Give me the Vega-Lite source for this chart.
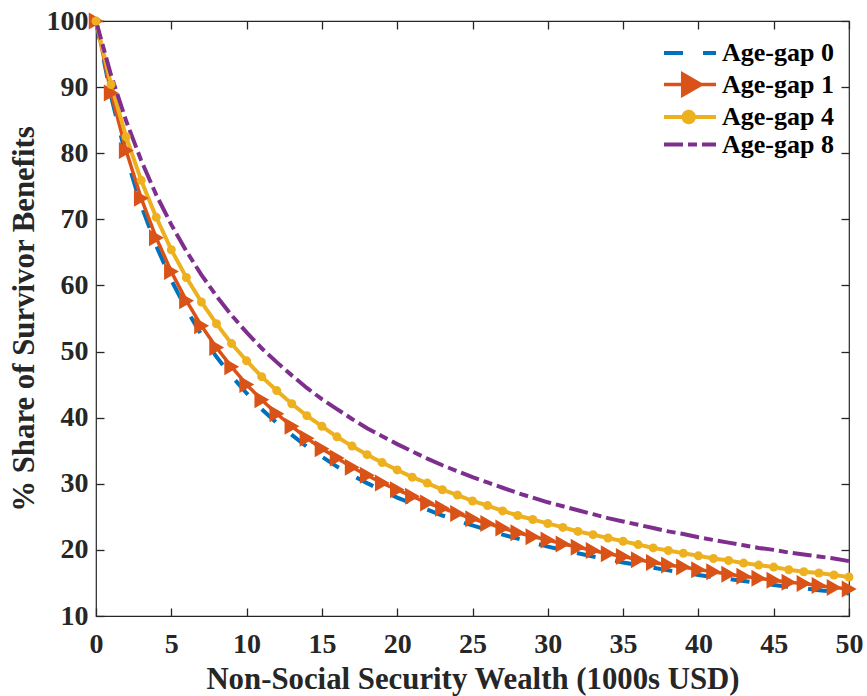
{
 "$schema": "https://vega.github.io/schema/vega-lite/v6.json",
 "width": 753, "height": 595,
 "autosize": {"type": "none"},
 "padding": {"left": 96, "top": 21, "right": 18, "bottom": 80},
 "background": "white",
 "config": {
  "font": "Liberation Serif",
  "view": {"stroke": "#262626", "strokeWidth": 1.2},
  "axis": {"domain": false, "grid": false, "labelFont": "Liberation Serif", "labelFontWeight": "bold", "labelFontSize": 28, "labelColor": "#262626", "tickColor": "#262626", "tickWidth": 1.3, "tickSize": -8, "titleFont": "Liberation Serif", "titleFontWeight": "bold", "titleFontSize": 30.8, "titleColor": "#262626", "labelFlush": false, "labelOverlap": false}
 },
 "data": {"values": [
{"x":0,"s":"Age-gap 0","y":100},{"x":1,"s":"Age-gap 0","y":88.6},{"x":2,"s":"Age-gap 0","y":79.5},{"x":3,"s":"Age-gap 0","y":72.1},{"x":4,"s":"Age-gap 0","y":66.0},{"x":5,"s":"Age-gap 0","y":60.8},{"x":6,"s":"Age-gap 0","y":56.4},{"x":7,"s":"Age-gap 0","y":52.5},{"x":8,"s":"Age-gap 0","y":49.2},{"x":9,"s":"Age-gap 0","y":46.3},{"x":10,"s":"Age-gap 0","y":43.7},{"x":11,"s":"Age-gap 0","y":41.3},{"x":12,"s":"Age-gap 0","y":39.2},{"x":13,"s":"Age-gap 0","y":37.4},{"x":14,"s":"Age-gap 0","y":35.6},{"x":15,"s":"Age-gap 0","y":34.1},{"x":16,"s":"Age-gap 0","y":32.6},{"x":17,"s":"Age-gap 0","y":31.3},{"x":18,"s":"Age-gap 0","y":30.1},{"x":19,"s":"Age-gap 0","y":29.0},{"x":20,"s":"Age-gap 0","y":27.9},{"x":21,"s":"Age-gap 0","y":27.0},{"x":22,"s":"Age-gap 0","y":26.1},{"x":23,"s":"Age-gap 0","y":25.2},{"x":24,"s":"Age-gap 0","y":24.4},{"x":25,"s":"Age-gap 0","y":23.7},{"x":26,"s":"Age-gap 0","y":23.0},{"x":27,"s":"Age-gap 0","y":22.3},{"x":28,"s":"Age-gap 0","y":21.7},{"x":29,"s":"Age-gap 0","y":21.1},{"x":30,"s":"Age-gap 0","y":20.5},{"x":31,"s":"Age-gap 0","y":20.0},{"x":32,"s":"Age-gap 0","y":19.5},{"x":33,"s":"Age-gap 0","y":19.0},{"x":34,"s":"Age-gap 0","y":18.6},{"x":35,"s":"Age-gap 0","y":18.1},{"x":36,"s":"Age-gap 0","y":17.7},{"x":37,"s":"Age-gap 0","y":17.3},{"x":38,"s":"Age-gap 0","y":16.9},{"x":39,"s":"Age-gap 0","y":16.6},{"x":40,"s":"Age-gap 0","y":16.2},{"x":41,"s":"Age-gap 0","y":15.9},{"x":42,"s":"Age-gap 0","y":15.6},{"x":43,"s":"Age-gap 0","y":15.3},{"x":44,"s":"Age-gap 0","y":15.0},{"x":45,"s":"Age-gap 0","y":14.7},{"x":46,"s":"Age-gap 0","y":14.4},{"x":47,"s":"Age-gap 0","y":14.2},{"x":48,"s":"Age-gap 0","y":13.9},{"x":49,"s":"Age-gap 0","y":13.7},{"x":50,"s":"Age-gap 0","y":13.4},
{"x":0,"s":"Age-gap 1","y":100},{"x":1,"s":"Age-gap 1","y":89.1},{"x":2,"s":"Age-gap 1","y":80.4},{"x":3,"s":"Age-gap 1","y":73.2},{"x":4,"s":"Age-gap 1","y":67.2},{"x":5,"s":"Age-gap 1","y":62.1},{"x":6,"s":"Age-gap 1","y":57.7},{"x":7,"s":"Age-gap 1","y":53.9},{"x":8,"s":"Age-gap 1","y":50.6},{"x":9,"s":"Age-gap 1","y":47.7},{"x":10,"s":"Age-gap 1","y":45.0},{"x":11,"s":"Age-gap 1","y":42.7},{"x":12,"s":"Age-gap 1","y":40.6},{"x":13,"s":"Age-gap 1","y":38.7},{"x":14,"s":"Age-gap 1","y":36.9},{"x":15,"s":"Age-gap 1","y":35.3},{"x":16,"s":"Age-gap 1","y":33.9},{"x":17,"s":"Age-gap 1","y":32.5},{"x":18,"s":"Age-gap 1","y":31.3},{"x":19,"s":"Age-gap 1","y":30.1},{"x":20,"s":"Age-gap 1","y":29.1},{"x":21,"s":"Age-gap 1","y":28.1},{"x":22,"s":"Age-gap 1","y":27.1},{"x":23,"s":"Age-gap 1","y":26.3},{"x":24,"s":"Age-gap 1","y":25.5},{"x":25,"s":"Age-gap 1","y":24.7},{"x":26,"s":"Age-gap 1","y":24.0},{"x":27,"s":"Age-gap 1","y":23.3},{"x":28,"s":"Age-gap 1","y":22.6},{"x":29,"s":"Age-gap 1","y":22.0},{"x":30,"s":"Age-gap 1","y":21.5},{"x":31,"s":"Age-gap 1","y":20.9},{"x":32,"s":"Age-gap 1","y":20.4},{"x":33,"s":"Age-gap 1","y":19.9},{"x":34,"s":"Age-gap 1","y":19.4},{"x":35,"s":"Age-gap 1","y":19.0},{"x":36,"s":"Age-gap 1","y":18.5},{"x":37,"s":"Age-gap 1","y":18.1},{"x":38,"s":"Age-gap 1","y":17.7},{"x":39,"s":"Age-gap 1","y":17.4},{"x":40,"s":"Age-gap 1","y":17.0},{"x":41,"s":"Age-gap 1","y":16.7},{"x":42,"s":"Age-gap 1","y":16.3},{"x":43,"s":"Age-gap 1","y":16.0},{"x":44,"s":"Age-gap 1","y":15.7},{"x":45,"s":"Age-gap 1","y":15.4},{"x":46,"s":"Age-gap 1","y":15.1},{"x":47,"s":"Age-gap 1","y":14.9},{"x":48,"s":"Age-gap 1","y":14.6},{"x":49,"s":"Age-gap 1","y":14.3},{"x":50,"s":"Age-gap 1","y":14.1},
{"x":0,"s":"Age-gap 4","y":100},{"x":1,"s":"Age-gap 4","y":90.4},{"x":2,"s":"Age-gap 4","y":82.5},{"x":3,"s":"Age-gap 4","y":75.9},{"x":4,"s":"Age-gap 4","y":70.3},{"x":5,"s":"Age-gap 4","y":65.4},{"x":6,"s":"Age-gap 4","y":61.2},{"x":7,"s":"Age-gap 4","y":57.5},{"x":8,"s":"Age-gap 4","y":54.2},{"x":9,"s":"Age-gap 4","y":51.2},{"x":10,"s":"Age-gap 4","y":48.6},{"x":11,"s":"Age-gap 4","y":46.2},{"x":12,"s":"Age-gap 4","y":44.1},{"x":13,"s":"Age-gap 4","y":42.1},{"x":14,"s":"Age-gap 4","y":40.3},{"x":15,"s":"Age-gap 4","y":38.7},{"x":16,"s":"Age-gap 4","y":37.1},{"x":17,"s":"Age-gap 4","y":35.7},{"x":18,"s":"Age-gap 4","y":34.4},{"x":19,"s":"Age-gap 4","y":33.2},{"x":20,"s":"Age-gap 4","y":32.1},{"x":21,"s":"Age-gap 4","y":31.0},{"x":22,"s":"Age-gap 4","y":30.1},{"x":23,"s":"Age-gap 4","y":29.1},{"x":24,"s":"Age-gap 4","y":28.3},{"x":25,"s":"Age-gap 4","y":27.4},{"x":26,"s":"Age-gap 4","y":26.7},{"x":27,"s":"Age-gap 4","y":25.9},{"x":28,"s":"Age-gap 4","y":25.2},{"x":29,"s":"Age-gap 4","y":24.6},{"x":30,"s":"Age-gap 4","y":24.0},{"x":31,"s":"Age-gap 4","y":23.4},{"x":32,"s":"Age-gap 4","y":22.8},{"x":33,"s":"Age-gap 4","y":22.3},{"x":34,"s":"Age-gap 4","y":21.8},{"x":35,"s":"Age-gap 4","y":21.3},{"x":36,"s":"Age-gap 4","y":20.8},{"x":37,"s":"Age-gap 4","y":20.3},{"x":38,"s":"Age-gap 4","y":19.9},{"x":39,"s":"Age-gap 4","y":19.5},{"x":40,"s":"Age-gap 4","y":19.1},{"x":41,"s":"Age-gap 4","y":18.7},{"x":42,"s":"Age-gap 4","y":18.4},{"x":43,"s":"Age-gap 4","y":18.0},{"x":44,"s":"Age-gap 4","y":17.7},{"x":45,"s":"Age-gap 4","y":17.4},{"x":46,"s":"Age-gap 4","y":17.0},{"x":47,"s":"Age-gap 4","y":16.7},{"x":48,"s":"Age-gap 4","y":16.5},{"x":49,"s":"Age-gap 4","y":16.2},{"x":50,"s":"Age-gap 4","y":15.9},
{"x":0,"s":"Age-gap 8","y":100},{"x":1,"s":"Age-gap 8","y":91.8},{"x":2,"s":"Age-gap 8","y":84.9},{"x":3,"s":"Age-gap 8","y":78.9},{"x":4,"s":"Age-gap 8","y":73.7},{"x":5,"s":"Age-gap 8","y":69.2},{"x":6,"s":"Age-gap 8","y":65.2},{"x":7,"s":"Age-gap 8","y":61.6},{"x":8,"s":"Age-gap 8","y":58.4},{"x":9,"s":"Age-gap 8","y":55.5},{"x":10,"s":"Age-gap 8","y":52.9},{"x":11,"s":"Age-gap 8","y":50.5},{"x":12,"s":"Age-gap 8","y":48.4},{"x":13,"s":"Age-gap 8","y":46.4},{"x":14,"s":"Age-gap 8","y":44.5},{"x":15,"s":"Age-gap 8","y":42.8},{"x":16,"s":"Age-gap 8","y":41.3},{"x":17,"s":"Age-gap 8","y":39.8},{"x":18,"s":"Age-gap 8","y":38.4},{"x":19,"s":"Age-gap 8","y":37.2},{"x":20,"s":"Age-gap 8","y":36.0},{"x":21,"s":"Age-gap 8","y":34.9},{"x":22,"s":"Age-gap 8","y":33.8},{"x":23,"s":"Age-gap 8","y":32.8},{"x":24,"s":"Age-gap 8","y":31.9},{"x":25,"s":"Age-gap 8","y":31.0},{"x":26,"s":"Age-gap 8","y":30.2},{"x":27,"s":"Age-gap 8","y":29.4},{"x":28,"s":"Age-gap 8","y":28.6},{"x":29,"s":"Age-gap 8","y":27.9},{"x":30,"s":"Age-gap 8","y":27.2},{"x":31,"s":"Age-gap 8","y":26.6},{"x":32,"s":"Age-gap 8","y":26.0},{"x":33,"s":"Age-gap 8","y":25.4},{"x":34,"s":"Age-gap 8","y":24.8},{"x":35,"s":"Age-gap 8","y":24.3},{"x":36,"s":"Age-gap 8","y":23.8},{"x":37,"s":"Age-gap 8","y":23.3},{"x":38,"s":"Age-gap 8","y":22.8},{"x":39,"s":"Age-gap 8","y":22.4},{"x":40,"s":"Age-gap 8","y":21.9},{"x":41,"s":"Age-gap 8","y":21.5},{"x":42,"s":"Age-gap 8","y":21.1},{"x":43,"s":"Age-gap 8","y":20.7},{"x":44,"s":"Age-gap 8","y":20.3},{"x":45,"s":"Age-gap 8","y":20.0},{"x":46,"s":"Age-gap 8","y":19.6},{"x":47,"s":"Age-gap 8","y":19.3},{"x":48,"s":"Age-gap 8","y":19.0},{"x":49,"s":"Age-gap 8","y":18.7},{"x":50,"s":"Age-gap 8","y":18.3}
 ]},
 "layer": [
  {
   "mark": {"type": "line"},
   "encoding": {
    "x": {"field": "x", "type": "quantitative", "scale": {"domain": [0, 50], "nice": false, "zero": false},
          "axis": {"values": [0,5,10,15,20,25,30,35,40,45,50], "labelPadding": 22, "title": "Non-Social Security Wealth (1000s USD)", "titleX": 376.5, "titleY": 72, "titleBaseline": "alphabetic", "titleAlign": "center"}},
    "y": {"field": "y", "type": "quantitative", "scale": {"domain": [10, 100], "nice": false, "zero": false},
          "axis": {"values": [10,20,30,40,50,60,70,80,90,100], "labelPadding": 16, "title": "% Share of Survivor Benefits", "titleX": -63, "titleY": 297.5, "titleAngle": -90, "titleBaseline": "alphabetic", "titleAlign": "center"}},
    "color": {"field": "s", "type": "nominal",
      "scale": {"domain": ["Age-gap 0", "Age-gap 1", "Age-gap 4", "Age-gap 8"], "range": ["#0072BD", "#D95319", "#EDB120", "#7E2F8E"]},
      "legend": {"title": null, "orient": "none", "legendX": 565, "legendY": 19, "padding": 0, "symbolSize": 400, "symbolType": "M-1,0H4.2", "symbolStrokeWidth": 4, "labelOffset": 35, "labelFont": "Liberation Serif", "labelFontWeight": "bold", "labelFontSize": 26, "labelColor": "#000000", "labelBaseline": "middle", "rowPadding": 0.5,
        "encode": {"symbols": {"update": {
          "shape": {"signal": "datum.value === 'Age-gap 1' ? 'M-1,0H4.2M0.87,-1.05L2.7,0L0.87,1.05Z' : (datum.value === 'Age-gap 4' ? 'M-1,0H4.2M0.95,0A0.52,0.52,0,1,0,1.99,0A0.52,0.52,0,1,0,0.95,0Z' : 'M-1,0H4.2')"},
          "strokeDash": {"signal": "datum.value === 'Age-gap 0' ? [19,20] : (datum.value === 'Age-gap 8' ? [19,5,9,5] : [1,0])"},
          "fill": {"signal": "scale('color', datum.value)"},
          "stroke": {"signal": "scale('color', datum.value)"},
          "strokeWidth": {"signal": "datum.value === 'Age-gap 1' ? 3.5 : 4"},
          "opacity": {"value": 1}
        }}}}},
    "strokeDash": {"field": "s", "type": "nominal", "legend": null,
      "scale": {"domain": ["Age-gap 0", "Age-gap 1", "Age-gap 4", "Age-gap 8"], "range": [[19,20],[1,0],[1,0],[19,5,9,5]]}},
    "strokeWidth": {"field": "s", "type": "ordinal", "legend": null,
      "scale": {"type": "ordinal", "domain": ["Age-gap 0", "Age-gap 1", "Age-gap 4", "Age-gap 8"], "range": [4, 3.5, 4, 4]}}
   }
  },
  {
   "transform": [{"filter": "datum.s === 'Age-gap 1'"}],
   "mark": {"type": "point", "filled": true, "shape": "M-0.85,-1L0.9,0L-0.85,1Z", "size": 289, "color": "#D95319", "opacity": 1},
   "encoding": {
    "x": {"field": "x", "type": "quantitative", "axis": {"orient": "top", "labels": false, "title": null, "values": [0,5,10,15,20,25,30,35,40,45,50]}},
    "y": {"field": "y", "type": "quantitative", "axis": {"orient": "right", "labels": false, "title": null, "values": [10,20,30,40,50,60,70,80,90,100]}}
   }
  },
  {
   "transform": [{"filter": "datum.s === 'Age-gap 4'"}],
   "mark": {"type": "point", "filled": true, "shape": "circle", "size": 81, "color": "#EDB120", "opacity": 1},
   "encoding": {
    "x": {"field": "x", "type": "quantitative", "axis": null},
    "y": {"field": "y", "type": "quantitative", "axis": null}
   }
  }
 ],
 "resolve": {"axis": {"x": "independent", "y": "independent"}}
}
